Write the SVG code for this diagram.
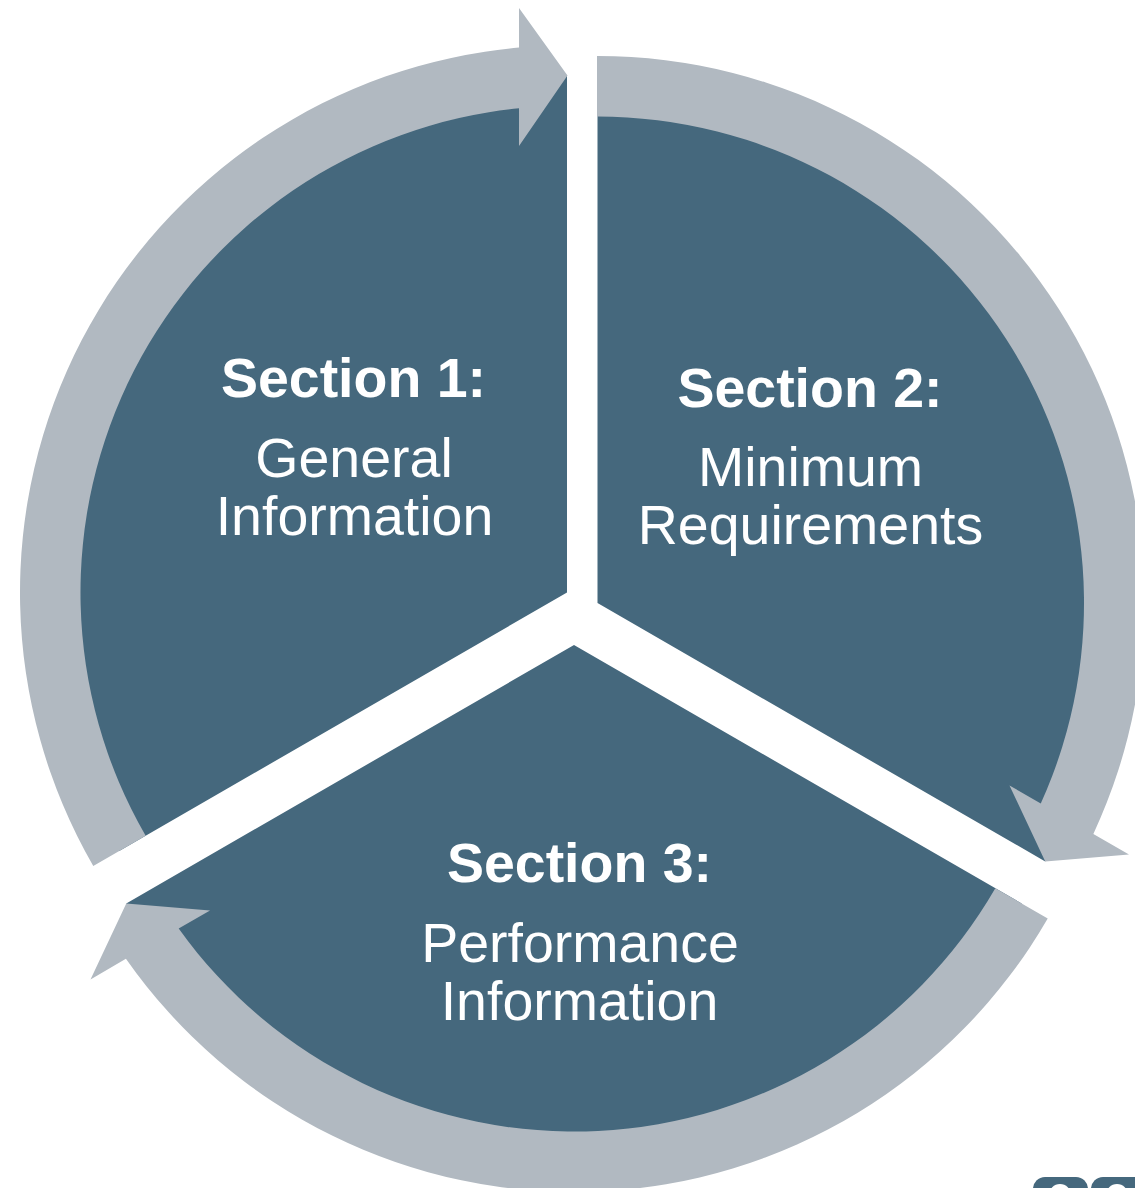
<svg xmlns="http://www.w3.org/2000/svg" width="1135" height="1188" viewBox="0 0 1135 1188">
  <style>
    .sector { fill: #45687D; }
    .arrow { fill: #B1B9C1; }
    .t { font-family: "Liberation Sans", Arial, sans-serif; font-size: 55.5px; fill: #FFFFFF; text-anchor: middle; }
    .b { font-weight: bold; }
    .ui { fill: #45687D; }
  </style>
  <rect x="0" y="0" width="1135" height="1188" fill="#FFFFFF"/>
  <g id="section1">
    <path class="sector" d="M567,592.5 L119.26,851 A517,517 0 0 1 567,75.5 Z"/>
  </g>
  <g id="section2">
    <path class="sector" d="M597.5,603 L597.5,86 A517,517 0 0 1 1045.24,861.5 Z"/>
  </g>
  <g id="section3">
    <path class="sector" d="M574,645 L1021.74,903.5 A517,517 0 0 1 126.26,903.5 Z"/>
  </g>
  <g id="connectors">
    <path class="arrow" d="M145.66,835.75 L93.28,866 A547,547 0 0 1 519.04,47.6 L519,8 L567.5,75.5 L519,146 L519.02,108.37 A486.5,486.5 0 0 0 145.66,835.75 Z"/>
    <path class="arrow" d="M597,116.5 L597,56 A547,547 0 0 1 1093.37,833.91 L1129,854.43 L1045.24,861.5 L1009.48,785.43 L1040.76,803.52 A486.5,486.5 0 0 0 597,116.5 Z"/>
    <path class="arrow" d="M995.32,888.25 L1047.72,918.5 A547,547 0 0 1 125.92,958.75 L90.5,979.57 L126.26,903.5 L210.02,910.57 L178.69,928.57 A486.5,486.5 0 0 0 995.32,888.25 Z"/>
  </g>
  <g id="label1">
    <text class="t b" x="353.5" y="397">Section 1:</text>
    <text class="t" x="354" y="477">General</text>
    <text class="t" x="354.5" y="535">Information</text>
  </g>
  <g id="label2">
    <text class="t b" x="810" y="407">Section 2:</text>
    <text class="t" x="810.5" y="486">Minimum</text>
    <text class="t" x="810.5" y="544">Requirements</text>
  </g>
  <g id="label3">
    <text class="t b" x="579.5" y="882">Section 3:</text>
    <text class="t" x="580" y="962">Performance</text>
    <text class="t" x="579.5" y="1020">Information</text>
  </g>
  <g id="corner-controls">
    <rect class="ui" x="1033" y="1177" width="55" height="40" rx="12"/>
    <circle cx="1060" cy="1195" r="11" fill="#FFFFFF"/>
    <rect class="ui" x="1091" y="1177" width="55" height="40" rx="12"/>
    <circle cx="1117" cy="1195" r="11" fill="#FFFFFF"/>
  </g>
</svg>
